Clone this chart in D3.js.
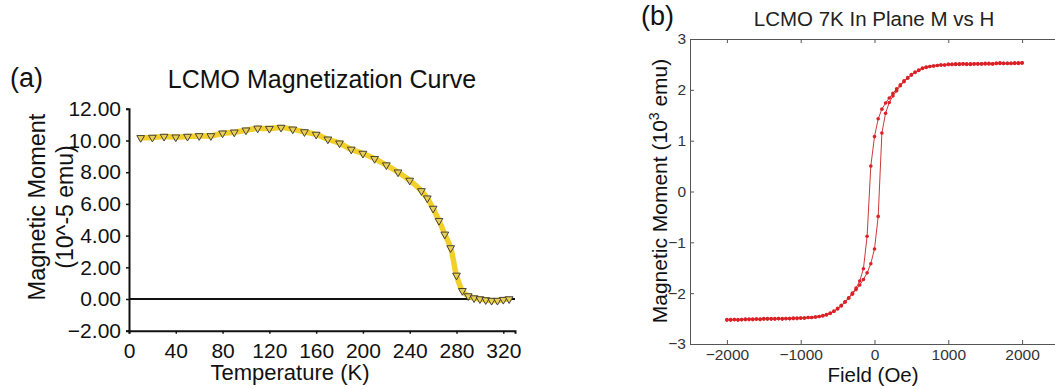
<!DOCTYPE html>
<html><head><meta charset="utf-8">
<script src="https://cdn.jsdelivr.net/npm/d3@7"></script>
<style>
html,body{margin:0;padding:0;background:#fff;}
svg{display:block;font-family:"Liberation Sans",Arial,sans-serif;}
</style></head>
<body><svg id="chart" width="1055" height="389"></svg>
<script>
// ---------- Panel (a) data ----------
const tempK = [10,20,30,40,50,60,70,80,90,100,110,120,130,140,150,160,170,180,190,200,210,220,230,240,250,255,260,265,270,275,280,285,290,295,300,305,310,315,320,325];
const momentA = [10.17,10.19,10.25,10.21,10.25,10.29,10.29,10.46,10.52,10.65,10.77,10.75,10.82,10.71,10.54,10.38,10.08,9.83,9.44,9.18,8.85,8.45,8.00,7.48,6.82,6.36,5.71,4.94,4.08,3.22,1.49,0.52,0.19,0.06,0.00,-0.06,-0.10,-0.10,-0.04,0.00];
const xTicksA = [0,40,80,120,160,200,240,280,320];
const yTicksA = [-2,0,2,4,6,8,10,12];

// ---------- Panel (b) data ----------
const fieldOe = [-2000,-1950,-1900,-1850,-1800,-1750,-1700,-1650,-1600,-1550,-1500,-1450,-1400,-1350,-1300,-1250,-1200,-1150,-1100,-1050,-1000,-950,-900,-850,-800,-750,-700,-650,-600,-550,-500,-450,-400,-350,-300,-250,-200,-150,-100,-50,0,50,100,150,200,250,300,350,400,450,500,550,600,650,700,750,800,850,900,950,1000,1050,1100,1150,1200,1250,1300,1350,1400,1450,1500,1550,1600,1650,1700,1750,1800,1850,1900,1950,2000];
// descending-field branch (values listed in increasing field order)
const momentDown = [-2.53,-2.52,-2.52,-2.53,-2.52,-2.52,-2.51,-2.52,-2.51,-2.51,-2.50,-2.51,-2.50,-2.51,-2.50,-2.50,-2.50,-2.50,-2.49,-2.50,-2.49,-2.49,-2.48,-2.48,-2.47,-2.46,-2.44,-2.42,-2.39,-2.35,-2.30,-2.24,-2.17,-2.09,-2.00,-1.90,-1.76,-1.52,-0.88,0.50,1.08,1.43,1.62,1.74,1.84,1.93,2.02,2.10,2.18,2.24,2.30,2.35,2.39,2.43,2.45,2.46,2.47,2.48,2.49,2.49,2.50,2.50,2.50,2.51,2.51,2.50,2.51,2.51,2.51,2.51,2.51,2.52,2.51,2.52,2.52,2.52,2.52,2.52,2.53,2.52,2.53];
// ascending-field branch
const momentUp = [-2.52,-2.53,-2.52,-2.52,-2.52,-2.51,-2.52,-2.51,-2.51,-2.52,-2.51,-2.50,-2.51,-2.50,-2.50,-2.51,-2.50,-2.50,-2.50,-2.49,-2.49,-2.49,-2.48,-2.48,-2.47,-2.46,-2.45,-2.43,-2.40,-2.36,-2.31,-2.25,-2.18,-2.10,-2.02,-1.93,-1.84,-1.73,-1.60,-1.42,-1.13,-0.49,1.15,1.54,1.75,1.88,1.98,2.08,2.16,2.23,2.29,2.34,2.38,2.42,2.44,2.46,2.47,2.48,2.49,2.49,2.50,2.50,2.51,2.50,2.51,2.51,2.50,2.51,2.51,2.51,2.52,2.51,2.51,2.52,2.53,2.52,2.52,2.52,2.52,2.53,2.53];
const xTicksB = [-2000,-1000,0,1000,2000];
const yTicksB = [-3,-2,-1,0,1,2,3];

const svg = d3.select("#chart");

// ================= Panel (a) =================
const xA = d3.scaleLinear().domain([0,330]).range([129,515]);
const yA = d3.scaleLinear().domain([-2,12]).range([330.7,108.8]);

const gA = svg.append("g");
// zero line
gA.append("line").attr("x1",xA(0)).attr("x2",xA(330)).attr("y1",yA(0)).attr("y2",yA(0))
  .attr("stroke","#111").attr("stroke-width",2);

const axA_x = gA.append("g").attr("transform",`translate(0,${yA(-2)})`)
  .call(d3.axisBottom(xA).tickValues(xTicksA).tickSize(3).tickPadding(9).tickFormat(d3.format("d")));
const axA_y = gA.append("g").attr("transform",`translate(${xA(0)},0)`)
  .call(d3.axisLeft(yA).tickValues(yTicksA).tickSize(3).tickPadding(5).tickFormat(d3.format(".2f")));
[axA_x,axA_y].forEach(a=>{
  a.select(".domain").attr("stroke","#111").attr("stroke-width",2);
  a.selectAll(".tick line").attr("stroke","#111").attr("stroke-width",1.5);
  a.selectAll("text").attr("fill","#111").style("font-size","21px").style("font-family","Liberation Sans, Arial, sans-serif");
});

const lineA = d3.line().x((d,i)=>xA(tempK[i])).y(d=>yA(d)).curve(d3.curveCatmullRom);
gA.append("path").datum(momentA).attr("d",lineA).attr("fill","none")
  .attr("stroke","#f3cf2c").attr("stroke-width",5.5).attr("stroke-linecap","round").attr("stroke-linejoin","round");
gA.selectAll(".mk").data(momentA).enter().append("path")
  .attr("d",d3.symbol().type(d3.symbolTriangle).size(26))
  .attr("transform",(d,i)=>`translate(${xA(tempK[i])},${yA(d)}) rotate(180)`)
  .attr("fill","#e9cf55").attr("stroke","#333").attr("stroke-width",0.9);

svg.append("text").attr("x",10).attr("y",87).text("(a)").style("font-size","27px").attr("fill","#111");
svg.append("text").attr("x",322).attr("y",88).attr("text-anchor","middle").text("LCMO Magnetization Curve")
  .style("font-size","25px").attr("fill","#111");
svg.append("text").attr("x",290).attr("y",380).attr("text-anchor","middle").text("Temperature (K)")
  .style("font-size","22px").attr("fill","#111");
svg.append("text").attr("transform","translate(45,207) rotate(-90)").attr("text-anchor","middle")
  .text("Magnetic Moment").style("font-size","23.5px").attr("fill","#111");
svg.append("text").attr("transform","translate(73,207) rotate(-90)").attr("text-anchor","middle")
  .text("(10^-5 emu)").style("font-size","23px").attr("fill","#111");

// ================= Panel (b) =================
const xB = d3.scaleLinear().domain([-2500,2500]).range([690,1059]);
const yB = d3.scaleLinear().domain([-3,3]).range([344,39]);
const gB = svg.append("g");
const frame = "#555";
const axB_x = gB.append("g").attr("transform",`translate(0,${yB(-3)})`)
  .call(d3.axisBottom(xB).tickValues(xTicksB).tickSizeInner(-4).tickSizeOuter(0).tickPadding(5).tickFormat(d3.format("d")));
const axB_top = gB.append("g").attr("transform",`translate(0,${yB(3)})`)
  .call(d3.axisTop(xB).tickValues(xTicksB).tickSizeInner(-4).tickSizeOuter(0).tickFormat(""));
const axB_y = gB.append("g").attr("transform",`translate(${xB(-2500)},0)`)
  .call(d3.axisLeft(yB).tickValues(yTicksB).tickSizeInner(-4).tickSizeOuter(0).tickPadding(4).tickFormat(d3.format("d")));
[axB_x,axB_top,axB_y].forEach(a=>{
  a.select(".domain").attr("stroke",frame).attr("stroke-width",1);
  a.selectAll(".tick line").attr("stroke",frame).attr("stroke-width",1);
  a.selectAll("text").attr("fill","#333").style("font-size","15.5px").style("font-family","Liberation Sans, Arial, sans-serif");
});

const lineB = d3.line().x((d,i)=>xB(fieldOe[i])).y(d=>yB(d));
[momentDown,momentUp].forEach(arr=>{
  gB.append("path").datum(arr).attr("d",lineB).attr("fill","none")
    .attr("stroke","#cc3a3a").attr("stroke-width",1);
  gB.append("g").selectAll("circle").data(arr).enter().append("circle")
    .attr("cx",(d,i)=>xB(fieldOe[i])).attr("cy",d=>yB(d)).attr("r",1.8).attr("fill","#dd1f26");
});

svg.append("text").attr("x",641).attr("y",25).text("(b)").style("font-size","27px").attr("fill","#111");
svg.append("text").attr("x",874).attr("y",26).attr("text-anchor","middle").text("LCMO 7K In Plane M vs H")
  .style("font-size","20.5px").attr("fill","#222");
svg.append("text").attr("x",873).attr("y",382).attr("text-anchor","middle").text("Field (Oe)")
  .style("font-size","20.5px").attr("fill","#111");
const yl = svg.append("text").attr("transform","translate(667,191) rotate(-90)").attr("text-anchor","middle")
  .style("font-size","21px").attr("fill","#111");
yl.append("tspan").text("Magnetic Moment (10");
yl.append("tspan").text("3").attr("dy","-8").style("font-size","14px");
yl.append("tspan").text(" emu)").attr("dy","8");
</script></body></html>
